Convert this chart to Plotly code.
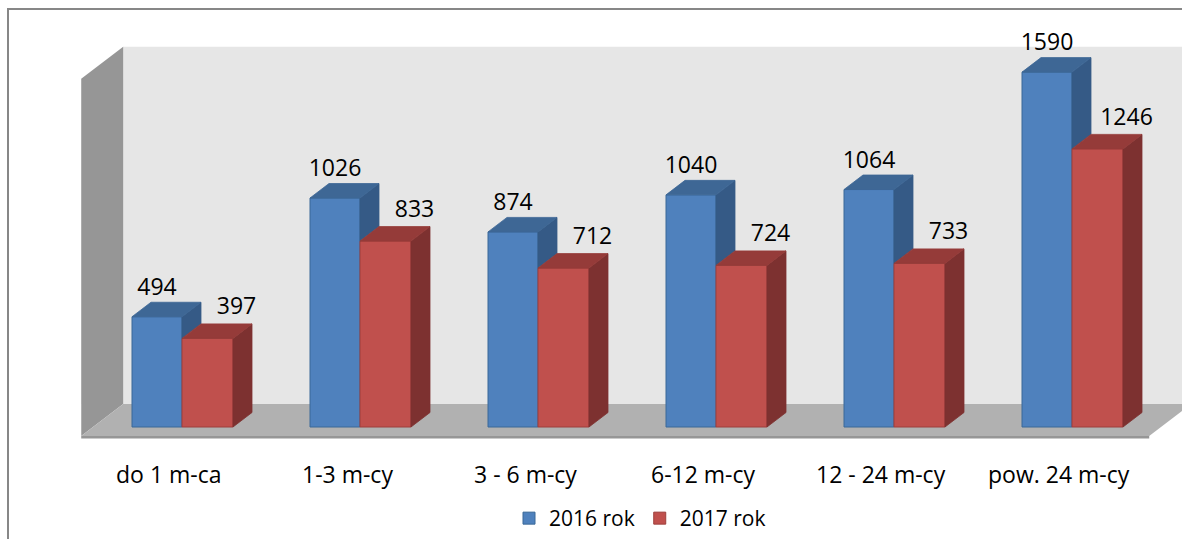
import plotly.graph_objects as go

# ---- data ----
categories = ["do 1 m-ca", "1-3 m-cy", "3 - 6 m-cy", "6-12 m-cy", "12 - 24 m-cy", "pow. 24 m-cy"]
series_names = ["2016 rok", "2017 rok"]
values_2016 = [494, 1026, 874, 1040, 1064, 1590]
values_2017 = [397, 833, 712, 724, 733, 1246]
axis_max = 1600

# ---- geometry (pixel scale of the picture) ----
W, H = 1182, 539
PX_PER_CAT = 178.0
PX_PER_VAL = 0.2232
X_ORIGIN_PX = 182.0   # pixel of category index 0 (pair centre)
Y_ZERO_PX = 427.0     # pixel of value 0 (front plane)
DX = 19.0 / PX_PER_CAT          # depth offset in x units (one bar depth)
DV = 14.5 / PX_PER_VAL          # depth offset in value units
D_FRONT, D_BACK = -0.62, 1.59   # floor front / back wall depth
W_BLUE, W_RED = 50.0 / PX_PER_CAT, 51.0 / PX_PER_CAT

x_range = [-X_ORIGIN_PX / PX_PER_CAT, (W - X_ORIGIN_PX) / PX_PER_CAT]
y_range = [-(H - Y_ZERO_PX) / PX_PER_VAL, Y_ZERO_PX / PX_PER_VAL]

BLUE_FRONT, BLUE_TOP, BLUE_SIDE, BLUE_LINE = "#4f81bd", "#3e6795", "#355a86", "#3a6898"
RED_FRONT, RED_TOP, RED_SIDE, RED_LINE = "#c0504d", "#953b39", "#7d3130", "#9e3f3c"
FONT = "Open Sans"
FS = 23


def P(x, v, d):
    return x + d * DX, v + d * DV


def path(points):
    return "M " + " L ".join(f"{x},{y}" for x, y in points) + " Z"


fig = go.Figure()

# front faces (real bar traces)
xs = list(range(len(categories)))
fig.add_trace(go.Bar(x=xs, y=values_2016, name=series_names[0], offset=-W_BLUE, width=W_BLUE,
                     marker=dict(color=BLUE_FRONT, line=dict(color=BLUE_LINE, width=1)),
                     hoverinfo="y"))
fig.add_trace(go.Bar(x=xs, y=values_2017, name=series_names[1], offset=0, width=W_RED,
                     marker=dict(color=RED_FRONT, line=dict(color=RED_LINE, width=1)),
                     hoverinfo="y"))


def poly_trace(polys, color, line):
    px, py = [], []
    for poly in polys:
        for x, y in poly + [poly[0]]:
            px.append(x)
            py.append(y)
        px.append(None)
        py.append(None)
    return go.Scatter(x=px, y=py, mode="lines", fill="toself", fillcolor=color,
                      line=dict(color=line, width=0.8), hoverinfo="skip", showlegend=False)


blue_side, blue_top, red_side, red_top = [], [], [], []
for i, (vb, vr) in enumerate(zip(values_2016, values_2017)):
    b0, b1 = i - W_BLUE, i
    r0, r1 = i, i + W_RED
    lo = min(vb, vr)
    blue_side.append([P(b1, lo, 0), P(b1, vb, 0), P(b1, vb, 1), P(b1, lo, 1)])
    blue_top.append([P(b0, vb, 0), P(b1, vb, 0), P(b1, vb, 1), P(b0, vb, 1)])
    red_side.append([P(r1, 0, 0), P(r1, vr, 0), P(r1, vr, 1), P(r1, 0, 1)])
    red_top.append([P(r0, vr, 0), P(r1, vr, 0), P(r1, vr, 1), P(r0, vr, 1)])

fig.add_trace(poly_trace(blue_side, BLUE_SIDE, BLUE_SIDE))
fig.add_trace(poly_trace(blue_top, BLUE_TOP, BLUE_TOP))
fig.add_trace(poly_trace(red_side, RED_SIDE, RED_SIDE))
fig.add_trace(poly_trace(red_top, RED_TOP, RED_TOP))

# data labels
fig.add_trace(go.Scatter(x=[i - W_BLUE / 2 for i in xs], y=[v + 27.5 / PX_PER_VAL for v in values_2016],
                         mode="text", text=[str(v) for v in values_2016], textposition="middle center",
                         textfont=dict(family=FONT, size=FS, color="#000000"),
                         hoverinfo="skip", showlegend=False, cliponaxis=False))
fig.add_trace(go.Scatter(x=[i + W_RED / 2 + 29.0 / PX_PER_CAT for i in xs],
                         y=[v + 30 / PX_PER_VAL for v in values_2017],
                         mode="text", text=[str(v) for v in values_2017], textposition="middle center",
                         textfont=dict(family=FONT, size=FS, color="#000000"),
                         hoverinfo="skip", showlegend=False, cliponaxis=False))

# walls and floor
xl, xr = -0.5, len(categories) - 0.5
shapes = []
shapes.append(dict(type="path", layer="below", xref="x", yref="y",
                   path=path([P(xl, 0, D_BACK), P(xr + 2, 0, D_BACK), P(xr + 2, axis_max, D_BACK), P(xl, axis_max, D_BACK)]),
                   fillcolor="#e6e6e6", line=dict(width=0)))
shapes.append(dict(type="path", layer="below", xref="x", yref="y",
                   path=path([P(xl, 0, D_FRONT), P(xl, 0, D_BACK), P(xl, axis_max, D_BACK), P(xl, axis_max, D_FRONT)]),
                   fillcolor="#969696", line=dict(width=0)))
shapes.append(dict(type="path", layer="below", xref="x", yref="y",
                   path=path([P(xl, 0, D_FRONT), P(xr, 0, D_FRONT), P(xr, 0, D_BACK), P(xl, 0, D_BACK)]),
                   fillcolor="#b1b1b1", line=dict(width=0)))
shapes.append(dict(type="path", layer="below", xref="x", yref="y",
                   path=path([P(xl, 0, D_FRONT), P(xr, 0, D_FRONT), P(xr, -2.5 / PX_PER_VAL, D_FRONT), P(xl, -2.5 / PX_PER_VAL, D_FRONT)]),
                   fillcolor="#969696", line=dict(width=0)))
# outer chart border
shapes.append(dict(type="rect", xref="paper", yref="paper",
                   x0=8 / W, x1=1.05, y0=-0.05, y1=1 - 9 / H,
                   line=dict(color="#878787", width=2), fillcolor="rgba(0,0,0,0)"))

annotations = []
for i, c in enumerate(categories):
    annotations.append(dict(x=i - 13 / PX_PER_CAT, y=1 - 474 / H, xref="x", yref="paper",
                            text=c, showarrow=False, xanchor="center", yanchor="middle",
                            font=dict(family=FONT, size=FS, color="#000000")))

fig.update_layout(
    width=W, height=H,
    margin=dict(l=0, r=0, t=0, b=0, autoexpand=False),
    paper_bgcolor="#ffffff", plot_bgcolor="#ffffff",
    xaxis=dict(range=x_range, visible=False, fixedrange=True),
    yaxis=dict(range=y_range, visible=False, fixedrange=True),
    shapes=shapes, annotations=annotations,
    showlegend=True,
    legend=dict(orientation="h", x=640 / W, xanchor="center", y=0, yanchor="bottom",
                font=dict(family=FONT, size=21, color="#000000"), bgcolor="rgba(0,0,0,0)",
                itemclick=False, itemdoubleclick=False, traceorder="normal"),
    barmode="overlay",
)

fig.write_html("out.html", config={"displayModeBar": False},
               post_script="document.body.style.margin='0';document.body.style.overflow='hidden';")
